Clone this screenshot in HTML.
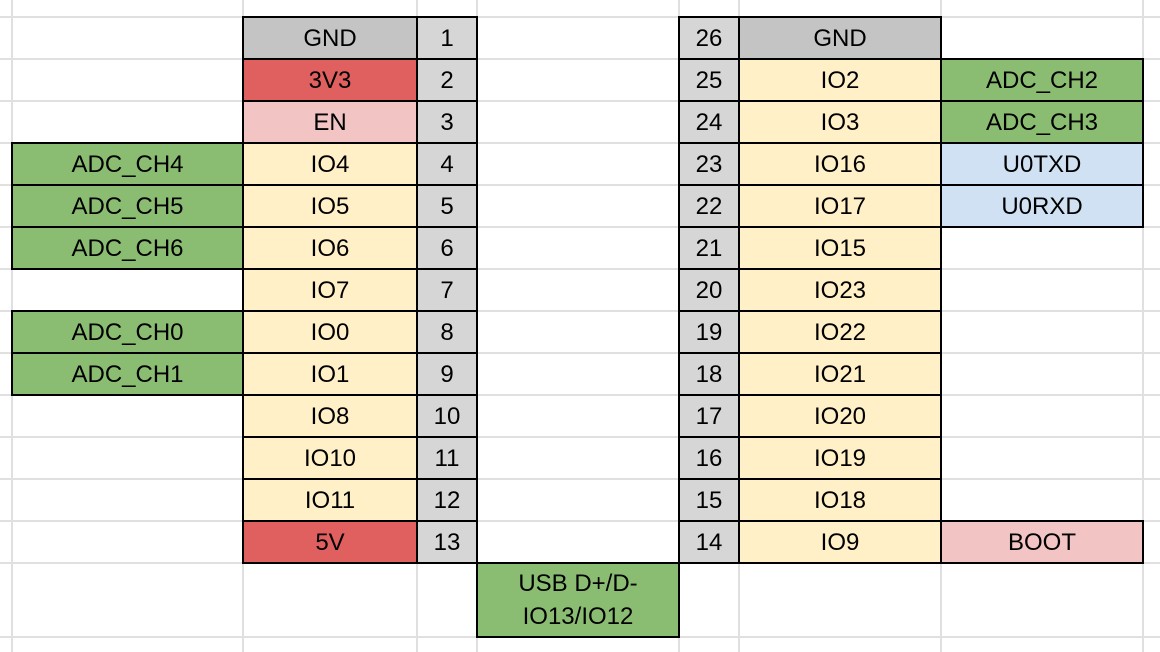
<!DOCTYPE html>
<html><head><meta charset="utf-8"><style>
body{margin:0;width:1160px;height:652px;background:#fff;position:relative;overflow:hidden;font-family:"Liberation Sans",Arial,sans-serif}
.g{position:absolute;background:#e0e0e0}
.c{position:absolute;box-sizing:border-box;border:2px solid #000;display:flex;align-items:center;justify-content:center;text-align:center;font-size:24px;color:#000;line-height:33px}
</style></head><body>
<script>
const xs=[12,243,417,477,679,739,941,1143];
const ys=[17,59,101,143,185,227,269,311,353,395,437,479,521,563,637];
xs.forEach(x=>{const d=document.createElement('div');d.className='g';


d.style.cssText=`left:${x-1}px;top:0;width:2px;height:652px`;document.body.appendChild(d);});
ys.forEach(y=>{const d=document.createElement('div');d.className='g';


d.style.cssText=`left:0;top:${y-1}px;width:1160px;height:2px`;document.body.appendChild(d);});
const C={gnd:'#c4c4c4',num:'#d6d6d6',red:'#e06060',pink:'#f2c4c4',yel:'#fff0c8',grn:'#8abd72',blu:'#cfe1f2'};
const leftLbl=['','','','ADC_CH4','ADC_CH5','ADC_CH6','','ADC_CH0','ADC_CH1','','','',''];
const leftPin=['GND','3V3','EN','IO4','IO5','IO6','IO7','IO0','IO1','IO8','IO10','IO11','5V'];
const leftPinC=['gnd','red','pink','yel','yel','yel','yel','yel','yel','yel','yel','yel','red'];
const rightPin=['GND','IO2','IO3','IO16','IO17','IO15','IO23','IO22','IO21','IO20','IO19','IO18','IO9'];
const rightPinC=['gnd','yel','yel','yel','yel','yel','yel','yel','yel','yel','yel','yel','yel'];
const rightLbl=['','ADC_CH2','ADC_CH3','U0TXD','U0RXD','','','','','','','','BOOT'];
const rightLblC=['','grn','grn','blu','blu','','','','','','','','pink'];
function cell(x0,x1,y0,y1,txt,col,name){const d=document.createElement('div');d.className='c';


d.style.cssText=`left:${x0-1}px;top:${y0-1}px;width:${x1-x0+2}px;height:${y1-y0+2}px;background:${C[col]}`;
d.innerHTML=txt;document.body.appendChild(d);}
for(let i=0;i<13;i++){const y0=ys[i],y1=ys[i+1];
 if(leftLbl[i])cell(xs[0],xs[1],y0,y1,leftLbl[i],'grn','left-function-cell');
 cell(xs[1],xs[2],y0,y1,leftPin[i],leftPinC[i],'left-pin-name');
 cell(xs[2],xs[3],y0,y1,String(i+1),'num','left-pin-number');
 cell(xs[4],xs[5],y0,y1,String(26-i),'num','right-pin-number');
 cell(xs[5],xs[6],y0,y1,rightPin[i],rightPinC[i],'right-pin-name');
 if(rightLbl[i])cell(xs[6],xs[7],y0,y1,rightLbl[i],rightLblC[i],'right-function-cell');
}
cell(xs[3],xs[4],ys[13],ys[14],'USB D+/D-<br>IO13/IO12','grn','usb-cell');
</script>
</body></html>
